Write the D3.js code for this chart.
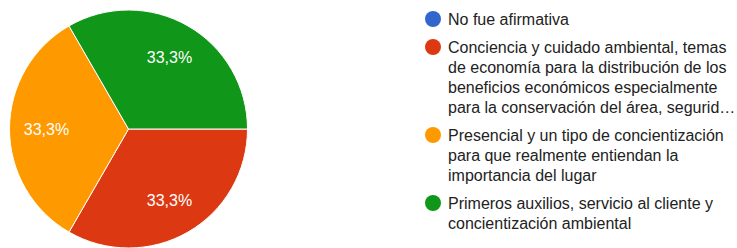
<!DOCTYPE html>
<html>
<head>
<meta charset="utf-8">
<script src="https://cdn.jsdelivr.net/npm/d3@7"></script>
<style>
  body { margin: 0; background: #fff; }
  text { font-family: "Liberation Sans", Arial, sans-serif; }
</style>
</head>
<body>
<script>
const width = 737;
const height = 248;

// answers and how many people gave them
const categories = [
  "No fue afirmativa",
  "Conciencia y cuidado ambiental, temas de economía para la distribución de los beneficios económicos especialmente para la conservación del área, segurid…",
  "Presencial y un tipo de concientización para que realmente entiendan la importancia del lugar",
  "Primeros auxilios, servicio al cliente y concientización ambiental"
];
const values = [0, 1, 1, 1];
const colors = ["#3366cc", "#dc3912", "#ff9900", "#109618"];

// legend lines as wrapped in the chart
const legendLines = [
  ["No fue afirmativa"],
  ["Conciencia y cuidado ambiental, temas",
   "de economía para la distribución de los",
   "beneficios económicos especialmente",
   "para la conservación del área, segurid…"],
  ["Presencial y un tipo de concientización",
   "para que realmente entiendan la",
   "importancia del lugar"],
  ["Primeros auxilios, servicio al cliente y",
   "concientización ambiental"]
];

const svg = d3.select("body").append("svg")
  .attr("width", width)
  .attr("height", height);

const cx = 128.5, cy = 129, r = 119;
const total = d3.sum(values);
const fmt = d3.formatLocale({decimal: ",", thousands: ".", grouping: [3], currency: ["", ""]}).format(".1%");

const pie = d3.pie()
  .sort(null)
  .value(d => d)
  .startAngle(Math.PI / 2)
  .endAngle(Math.PI / 2 + 2 * Math.PI);

const arcs = pie(values);
const arc = d3.arc().innerRadius(0).outerRadius(r);
const labelArc = d3.arc().innerRadius(82).outerRadius(82);

const g = svg.append("g").attr("transform", `translate(${cx},${cy})`);

g.selectAll("path")
  .data(arcs.filter(d => d.value > 0))
  .join("path")
  .attr("d", arc)
  .attr("fill", d => colors[d.index])
  .attr("stroke", "#fff")
  .attr("stroke-width", 1);

g.selectAll("text")
  .data(arcs.filter(d => d.value > 0))
  .join("text")
  .attr("transform", d => `translate(${labelArc.centroid(d)})`)
  .attr("text-anchor", "middle")
  .attr("dominant-baseline", "central")
  .attr("fill", "#fff")
  .attr("font-size", 16)
  .text(d => fmt(d.value / total));

// legend
const lineH = 20, itemGap = 8;
let y = 19;
const legend = svg.append("g");
legendLines.forEach((lines, i) => {
  legend.append("circle")
    .attr("cx", 433)
    .attr("cy", y)
    .attr("r", 8)
    .attr("fill", colors[i]);
  lines.forEach((t, j) => {
    legend.append("text")
      .attr("x", 448)
      .attr("y", y + j * lineH)
      .attr("dominant-baseline", "central")
      .attr("font-size", 16)
      .attr("fill", "#222")
      .text(t);
  });
  y += lines.length * lineH + itemGap;
});
</script>
</body>
</html>
